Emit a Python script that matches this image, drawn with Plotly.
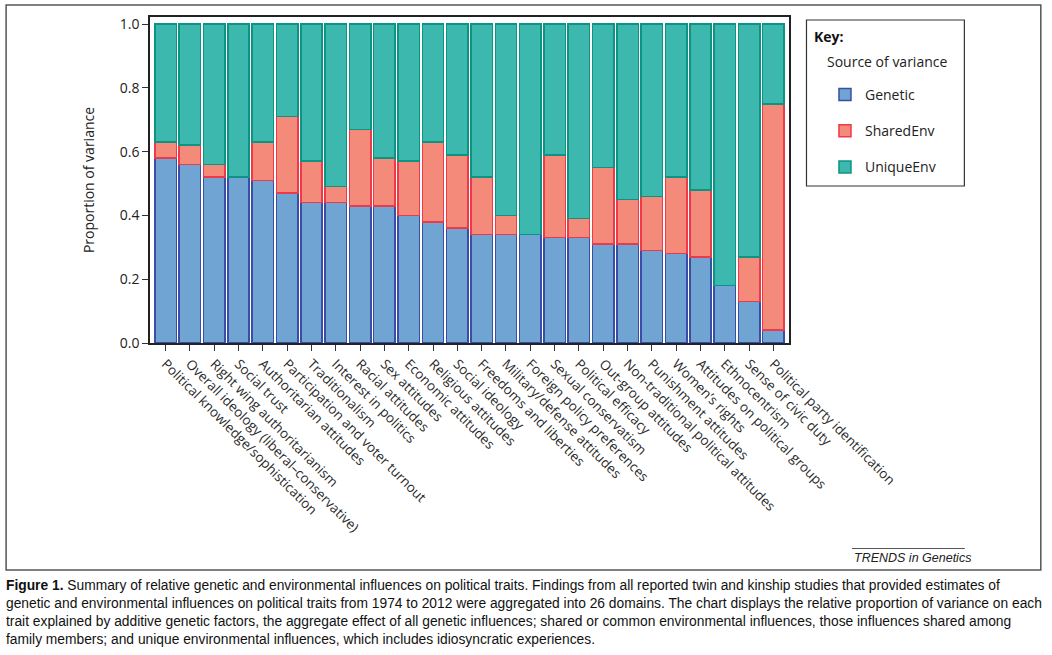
import plotly.graph_objects as go

categories = [
    "Political knowledge/sophistication",
    "Overall ideology (liberal–conservative)",
    "Right wing authoritarianism",
    "Social trust",
    "Authoritarian attitudes",
    "Participation and voter turnout",
    "Traditionalism",
    "Interest in politics",
    "Racial attitudes",
    "Sex attitudes",
    "Economic attitudes",
    "Religious attitudes",
    "Social ideology",
    "Freedoms and liberties",
    "Military/defense attitudes",
    "Foreign policy preferences",
    "Sexual conservatism",
    "Political efficacy",
    "Out-group attitudes",
    "Non-traditional political attitudes",
    "Punishment attitudes",
    "Women’s rights",
    "Attitudes on political groups",
    "Ethnocentrism",
    "Sense of civic duty",
    "Political party identification",
]

genetic = [0.58, 0.56, 0.52, 0.52, 0.51, 0.47, 0.44, 0.44, 0.43, 0.43, 0.40, 0.38, 0.36,
           0.34, 0.34, 0.34, 0.33, 0.33, 0.31, 0.31, 0.29, 0.28, 0.27, 0.18, 0.13, 0.04]
shared_env = [0.05, 0.06, 0.04, None, 0.12, 0.24, 0.13, 0.05, 0.24, 0.15, 0.17, 0.25, 0.23,
              0.18, 0.06, None, 0.26, 0.06, 0.24, 0.14, 0.17, 0.24, 0.21, None, 0.14, 0.71]
unique_env = [0.37, 0.38, 0.44, 0.48, 0.37, 0.29, 0.43, 0.51, 0.33, 0.42, 0.43, 0.37, 0.41,
              0.48, 0.60, 0.66, 0.41, 0.61, 0.45, 0.55, 0.54, 0.48, 0.52, 0.82, 0.73, 0.25]

y_ticks = [0.0, 0.2, 0.4, 0.6, 0.8, 1.0]
y_tick_labels = ["0.0", "0.2", "0.4", "0.6", "0.8", "1.0"]

series = [
    ("Genetic", genetic, "#6fa4d3", "#3b4ea6"),
    ("SharedEnv", shared_env, "#f38a7a", "#ee3a48"),
    ("UniqueEnv", unique_env, "#3cb8af", "#0b9483"),
]

W, H = 1052, 655
# plot area in page pixels
L, R, T, B = 149.5, 789.0, 17.0, 343.0


def px(x):
    return (x - L) / (R - L)


def py(y):
    return (B - y) / (B - T)


fig = go.Figure()
for name, vals, fill, line in series:
    fig.add_trace(go.Bar(
        x=list(range(len(categories))), y=vals, name=name,
        marker=dict(color=fill, line=dict(color=line, width=1.5)),
        legendgroup=name,
    ))

FONT = "Open Sans, Noto Sans, sans-serif"
label_font = dict(family=FONT, size=13.5, color="#2a2a2a")

fig.update_layout(
    width=W, height=H,
    barmode="stack", bargap=0.12,
    paper_bgcolor="white", plot_bgcolor="white",
    margin=dict(l=L, r=W - R, t=T, b=H - B),
    showlegend=True,
    legend=dict(
        x=px(825), y=py(79), xanchor="left", yanchor="top",
        xref="paper", yref="paper",
        bgcolor="rgba(0,0,0,0)", borderwidth=0,
        traceorder="grouped", tracegroupgap=15,
        font=dict(family=FONT, size=14, color="#222"),
    ),
    xaxis=dict(
        range=[-0.64, 25.64],
        tickmode="array", tickvals=list(range(len(categories))), ticktext=categories,
        tickangle=45, ticks="outside", ticklen=6, tickcolor="#333", tickwidth=1,
        showline=True, linecolor="#222", linewidth=1.5, mirror=True,
        showgrid=False, zeroline=False,
        tickfont=label_font,
    ),
    yaxis=dict(
        range=[0, 1.022],
        tickmode="array", tickvals=y_ticks, ticktext=y_tick_labels,
        ticks="outside", ticklen=6, tickcolor="#333", tickwidth=1,
        showline=True, linecolor="#222", linewidth=1.5, mirror=True,
        showgrid=False, zeroline=False,
        tickfont=dict(family=FONT, size=14, color="#222"),
        title=dict(text="Proportion of variance", standoff=22,
                   font=dict(family=FONT, size=14, color="#222")),
    ),
)

shapes = [
    # outer figure frame
    dict(type="rect", xref="paper", yref="paper",
         x0=px(5.5), x1=px(1041), y0=py(570), y1=py(5),
         line=dict(color="#555", width=1.5), fillcolor="rgba(0,0,0,0)", layer="below"),
    # key box
    dict(type="rect", xref="paper", yref="paper",
         x0=px(806.5), x1=px(964.5), y0=py(186), y1=py(20),
         line=dict(color="#333", width=1.2), fillcolor="rgba(0,0,0,0)"),
    # line above journal name
    dict(type="line", xref="paper", yref="paper",
         x0=px(852), x1=px(965), y0=py(548.5), y1=py(548.5),
         line=dict(color="#555", width=1.2)),
]
fig.update_layout(shapes=shapes)

caption = ("<b>Figure 1.</b> Summary of relative genetic and environmental influences on political traits. "
           "Findings from all reported twin and kinship studies that provided estimates of<br>"
           "genetic and environmental influences on political traits from 1974 to 2012 were aggregated into 26 domains. "
           "The chart displays the relative proportion of variance on each<br>"
           "trait explained by additive genetic factors, the aggregate effect of all genetic influences; "
           "shared or common environmental influences, those influences shared among<br>"
           "family members; and unique environmental influences, which includes idiosyncratic experiences.")

annotations = [
    dict(text="<b>Key:</b>", xref="paper", yref="paper", x=px(812), y=py(36),
         xanchor="left", yanchor="middle", showarrow=False,
         font=dict(family=FONT, size=14, color="#111")),
    dict(text="Source of variance", xref="paper", yref="paper", x=px(825), y=py(61),
         xanchor="left", yanchor="middle", showarrow=False,
         font=dict(family=FONT, size=14, color="#222")),
    dict(text="<i>TRENDS in Genetics</i>", xref="paper", yref="paper", x=px(852), y=py(558),
         xanchor="left", yanchor="middle", showarrow=False,
         font=dict(family="Liberation Sans, Arial, sans-serif", size=12.5, color="#222")),
    dict(text=caption, xref="paper", yref="paper", x=px(3), y=py(576),
         xanchor="left", yanchor="top", align="left", showarrow=False,
         font=dict(family="Liberation Sans, Arial, sans-serif", size=13.8, color="#111")),
]
fig.update_layout(annotations=annotations)

fig.write_html("out.html", config={"displayModeBar": False},
               post_script="document.body.style.margin='0px';")
